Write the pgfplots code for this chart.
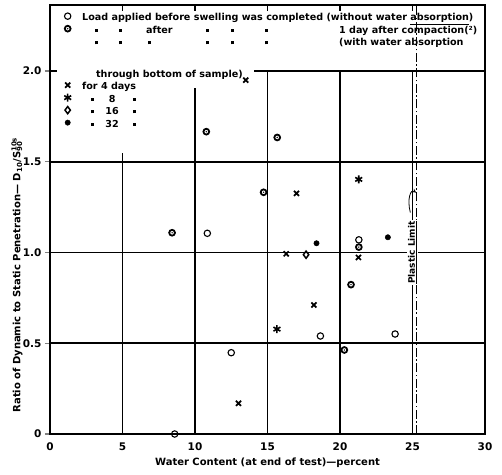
\documentclass[border=0pt]{standalone}
\usepackage{fontspec}
\setmainfont{DejaVu Sans}
\usepackage{pgfplots}
\pgfplotsset{compat=1.18}
\pgfdeclareplotmark{dotcirc}{%
  \pgfsetfillcolor{white}\pgfpathcircle{\pgfpointorigin}{\pgfplotmarksize}\pgfusepathqfillstroke
  \pgfsetfillcolor{black}\pgfpathcircle{\pgfpointorigin}{0.8pt}\pgfusepathqfill}
\newcommand\st{\rule[-3bp]{0pt}{14bp}}
\newcommand\dit{\rule[1.5bp]{3bp}{3bp}}
\newcommand\dt[1]{\rlap{\hspace*{#1}\makebox[0pt]{\dit}}}
\newcommand\tx[2]{\rlap{\hspace*{#1}#2}}
\tikzset{gl/.style={line width=1.8bp}}
\begin{document}
\begin{tikzpicture}[font=\fontsize{10bp}{12bp}\selectfont\bfseries]
\begin{axis}[
  scale only axis, width=435bp, height=429bp,
  xmin=0, xmax=30, ymin=0, ymax=2.364,
  xtick={0,5,...,30}, ytick={0,0.5,1,1.5,2},
  yticklabels={0,0.5,1.0,1.5,2.0},
  /pgf/number format/assume math mode=true,
  tick label style={font=\fontsize{10.5bp}{12bp}\selectfont\bfseries},
  xtick pos=bottom, ytick pos=left, tick align=outside, major tick length=5bp,
  xtick style={draw=none}, ytick style={line width=1.4bp},
  axis line style={line width=1.8bp},
  xlabel={Water Content (at end of test)—percent},
  ylabel={Ratio of Dynamic to Static Penetration— D\textsubscript{10}/S\rlap{\textsuperscript{10s}}\textsubscript{90}},
  xlabel style={at={(axis description cs:0.5,-0.068)}, anchor=center},
  ylabel style={at={(axis description cs:-0.076,0.366)}, anchor=center},
  legend cell align=left,
  legend style={at={(axis cs:0.62,2.338)}, anchor=north west, draw=none, fill=none,
    inner sep=0pt, row sep=0pt, nodes={inner ysep=0pt, inner xsep=1bp},
    /tikz/every odd column/.append style={column sep=10bp},
    font=\fontsize{9.6bp}{11bp}\selectfont\bfseries},
  clip=false,
]
% grid
\draw[gl] (axis cs:5,0) -- (axis cs:5,1.548);
\draw[gl] (axis cs:10,0) -- (axis cs:10,1.906);
\draw[gl] (axis cs:15,0) -- (axis cs:15,2.0);
\draw[gl] (axis cs:20,0) -- (axis cs:20,2.0);
\draw[gl] (axis cs:25,0) -- (axis cs:25,2.0);
\draw[gl] (axis cs:0,0.5) -- (axis cs:30,0.5);
\draw[gl] (axis cs:0,1.0) -- (axis cs:30,1.0);
\draw[gl] (axis cs:0,1.5) -- (axis cs:30,1.5);
\draw[gl] (axis cs:0,2.0) -- (axis cs:0.5,2.0);
\draw[gl] (axis cs:14.1,2.0) -- (axis cs:30,2.0);
\pgfplotsinvokeforeach{5,10,15,20,25}{\draw[line width=1.4bp] (axis cs:#1,2.364) -- (axis cs:#1,2.33);}
% plastic limit
\draw[line width=1.1bp, dash pattern=on 9bp off 2.5bp on 1.5bp off 2.5bp] (axis cs:25.3,0) -- (axis cs:25.3,2.364);
\node[rotate=90, fill=white, inner sep=1bp, font=\fontsize{9bp}{10bp}\selectfont\bfseries] at (axis cs:25.0,1.0) {\underline{Plastic Limit}};
\draw[-stealth, line width=0.8bp] (axis cs:24.85,1.22) .. controls (axis cs:24.6,1.30) and (axis cs:24.9,1.35) .. (axis cs:25.25,1.33);

\addplot[only marks, mark=o, mark size=3.2bp, mark options={line width=1.1bp, fill=white}]
  coordinates {(10.85,1.106) (12.5,0.448) (18.65,0.54) (23.8,0.551) (8.6,0) (21.3,1.07)};
\addlegendentry{\st Load applied before swelling was completed (without water \underline{absorption})}
\addplot[only marks, mark=dotcirc, mark size=2.9bp, mark options={line width=1.8bp}]
  coordinates {(10.78,1.666) (15.67,1.634) (14.73,1.332) (8.42,1.109) (20.76,0.823) (20.3,0.463) (21.3,1.03)};
\addlegendentry{\st\dt{14bp}\dt{38bp}\tx{64bp}{after}\dt{125bp}\dt{150bp}\dt{184bp}\hspace*{257bp}1 day after compaction(²)}
\addlegendimage{empty legend}
\addlegendentry{\st\dt{14bp}\dt{38bp}\dt{67bp}\dt{125bp}\dt{150bp}\dt{184bp}\hspace*{257bp}(with water absorption}
\addlegendimage{empty legend}
\addlegendentry{\rule[-10bp]{0pt}{40bp}\hspace*{14bp}through bottom of sample)}
\addplot[only marks, mark=x, mark size=3.6bp, mark options={line width=1.7bp}]
  coordinates {(13.5,1.95) (17.0,1.326) (16.29,0.993) (21.27,0.973) (18.2,0.711) (13.0,0.169)};
\addlegendentry{\st for 4 days}
\addplot[only marks, mark=asterisk, mark size=4bp, mark options={line width=1.6bp}]
  coordinates {(21.29,1.403) (15.65,0.578)};
\addlegendentry{\st\dt{10bp}\tx{30bp}{\makebox[0pt]{8}}\dt{52bp}\hspace*{56bp}}
\addplot[only marks, mark=diamond, mark size=3.6bp, mark options={line width=1.5bp, fill=white}]
  coordinates {(17.66,0.988)};
\addlegendentry{\st\dt{10bp}\tx{30bp}{\makebox[0pt]{16}}\dt{52bp}\hspace*{56bp}}
\addplot[only marks, mark=*, mark size=2.7bp]
  coordinates {(18.38,1.051) (23.3,1.084)};
\addlegendentry{\st\dt{10bp}\tx{30bp}{\makebox[0pt]{32}}\dt{52bp}\hspace*{56bp}}
\end{axis}
\path (current axis.south west) ++(-50bp,-41bp) rectangle ++(502bp,475bp);
\end{tikzpicture}
\end{document}
